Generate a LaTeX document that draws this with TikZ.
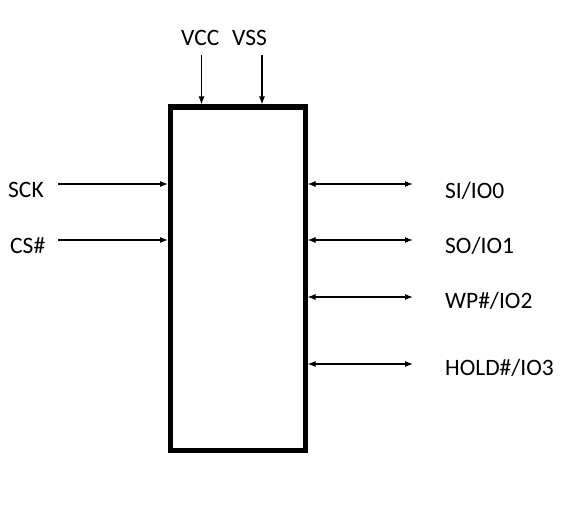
\documentclass[tikz,border=0pt]{standalone}
\usepackage{fontspec}
\setmainfont{Carlito}
\usetikzlibrary{arrows.meta}
\begin{document}
\begin{tikzpicture}[x=1pt,y=-1pt,
  lbl/.style={inner sep=0pt,anchor=base west,font=\fontsize{23.5}{28}\selectfont},
  arr/.style={line width=1.2pt,-{Latex[length=8pt,width=6pt]}},
  barr/.style={line width=1.2pt,{Latex[length=8pt,width=6pt]}-{Latex[length=8pt,width=6pt]}},
  chipbox/.style={draw,line width=5pt,minimum width=134.5pt,minimum height=343pt,inner sep=0pt}]
\useasboundingbox (0,0) rectangle (578,508);
\node[chipbox] (chip) at (237.75,278.5) {};
\draw[line width=6pt] ([yshift=-2.5pt]chip.north west) -- ([yshift=-2.5pt]chip.north east);
% top labels
\node[lbl] (vcc) at (181,46) {VCC};
\node[lbl] (vss) at (232,46) {VSS};
\coordinate (vccS) at (201.5,55);
\coordinate (vssS) at (262,55);
\draw[arr] (vccS) -- (vccS |- chip.north);
\draw[arr] (vssS) -- (vssS |- chip.north);
% left labels
\node[lbl] (sck) at (8,197) {SCK};
\node[lbl] (cs) at (10,253) {CS\#};
\coordinate (sckS) at (58,184);
\coordinate (csS) at (58,240);
\draw[arr] (sckS) -- (sckS -| chip.west);
\draw[arr] (csS) -- (csS -| chip.west);
% right labels
\node[lbl] (si) at (445,198) {SI/IO0};
\node[lbl] (so) at (445,253) {SO/IO1};
\node[lbl] (wp) at (445,308) {WP\#/IO2};
\node[lbl] (hold) at (445,375) {HOLD\#/IO3};
\coordinate (siE) at (413,184);
\coordinate (soE) at (413,240);
\coordinate (wpE) at (413,297);
\coordinate (holdE) at (413,364);
\draw[barr] (siE -| chip.east) -- (siE);
\draw[barr] (soE -| chip.east) -- (soE);
\draw[barr] (wpE -| chip.east) -- (wpE);
\draw[barr] (holdE -| chip.east) -- (holdE);
\end{tikzpicture}
\end{document}
